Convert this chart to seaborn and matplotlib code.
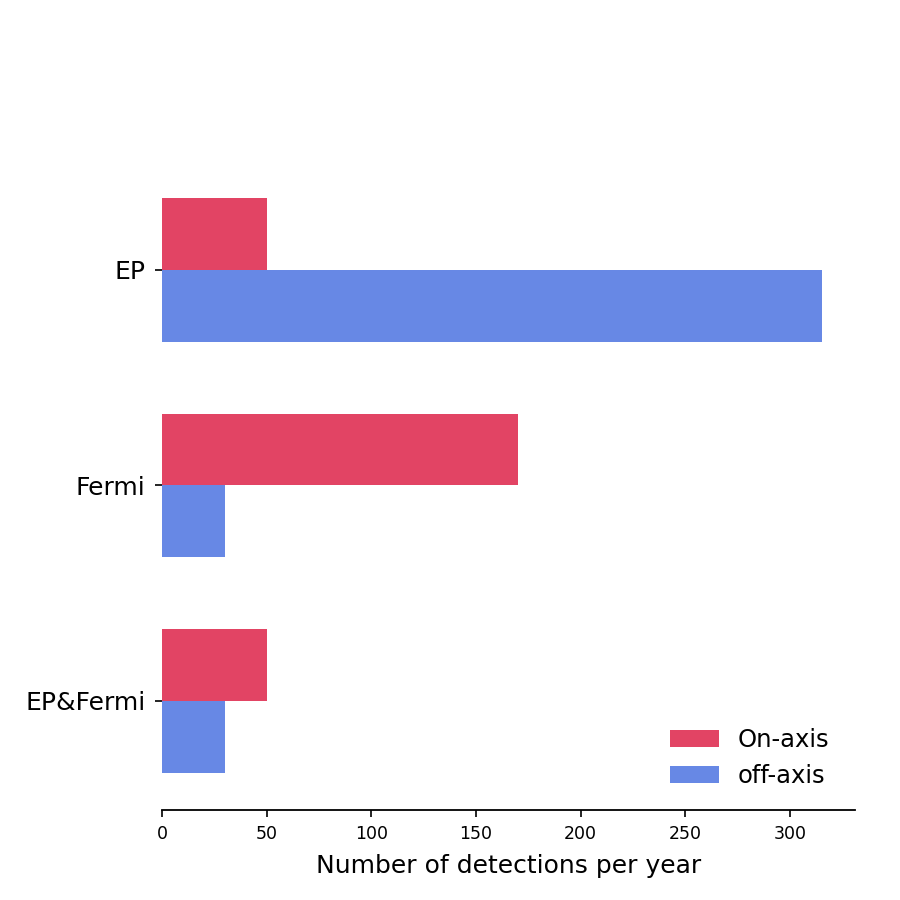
import matplotlib
matplotlib.use("Agg")
import matplotlib.pyplot as plt
import seaborn as sns
import pandas as pd

categories = ["EP", "Fermi", "EP&Fermi"]
on_axis = [50, 170, 50]
off_axis = [315, 30, 30]
series_names = ["On-axis", "off-axis"]
colors = ["#E24464", "#6788E5"]

df = pd.DataFrame({
    "cat": categories * 2,
    "val": on_axis + off_axis,
    "series": [series_names[0]] * 3 + [series_names[1]] * 3,
})

sns.set_style("ticks")
plt.rcParams["font.family"] = ["DejaVu Sans"]
plt.rcParams["text.color"] = "black"

fig = plt.figure(figsize=(9, 9), dpi=100)
ax = fig.add_axes([0.18, 0.1, 0.77, 0.8])
sns.barplot(data=df, x="val", y="cat", hue="series", order=categories,
            hue_order=series_names, palette=colors, orient="h",
            width=2/3, saturation=1, linewidth=0, ax=ax)

ax.set_xlim(0, 331)
ax.set_ylim(2.506, -0.835)
ax.set_xticks([0, 50, 100, 150, 200, 250, 300])
ax.set_xlabel("Number of detections per year", fontsize=18, labelpad=8)
ax.set_ylabel("")
ax.tick_params(axis="x", labelsize=12.5, length=5, width=1.2, color="black", pad=6)
ax.tick_params(axis="y", labelsize=18, length=5, width=1.2, color="black", pad=7)
for lbl in ax.get_xticklabels() + ax.get_yticklabels():
    lbl.set_color("black")
ax.xaxis.label.set_color("black")
for s in ["left", "top", "right"]:
    ax.spines[s].set_visible(False)
ax.spines["bottom"].set_linewidth(1.3)
ax.spines["bottom"].set_color("black")

leg = ax.legend(frameon=False, loc="lower right", fontsize=17.5,
                bbox_to_anchor=(0.995, 0.0))
for t in leg.get_texts():
    t.set_color("black")

fig.savefig("out.png", dpi=100)
